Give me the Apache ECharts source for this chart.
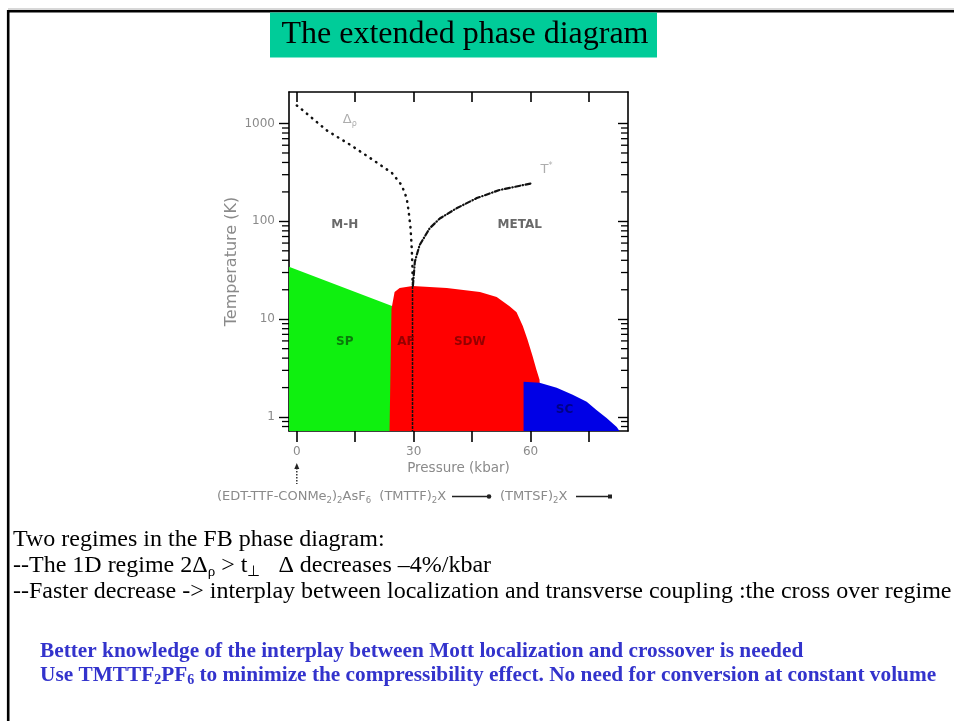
<!DOCTYPE html>
<html>
<head>
<meta charset="utf-8">
<script src="https://cdn.jsdelivr.net/npm/echarts@6/dist/echarts.min.js"></script>
<style>
  html, body { margin: 0; padding: 0; background: #ffffff; }
  #chart { width: 954px; height: 721px; }
</style>
</head>
<body>
<div id="chart"></div>
<script>
// Axis ranges and ticks
const pressureRange = [-2, 85];
const temperatureRange = [0.72, 2100];
const pressureTicks = [0, 15, 30, 45, 60, 75];
const pressureTickLabels = [0, 30, 60];
const temperatureTicks = [1, 10, 100, 1000];
const temperatureMinorTicks = [0.8, 0.9, 2, 3, 4, 5, 6, 7, 8, 9, 20, 30, 40, 50, 60, 70, 80, 90,
  200, 300, 400, 500, 600, 700, 800, 900];

// Phase boundaries, [pressure (kbar), temperature (K)]
const deltaRhoCurve = [[0, 1530], [1.6, 1360], [7.7, 850], [13.6, 610], [19.5, 426], [24.4, 313],
  [26.9, 235], [28.2, 173], [28.7, 127], [29.2, 85], [29.5, 53], [29.7, 33], [29.7, 24]];
const mottLine = [[29.7, 24], [29.7, 0.72]];
const tStarCurve = [[29.8, 22], [30.3, 38.7], [31.5, 57], [34.1, 85], [36.7, 107], [41, 136],
  [46.2, 173], [52, 209], [60.5, 246]];
const spBoundary = [[-2, 34.4], [25.1, 13.3]];
const sdwBoundary = [[23.8, 0.72], [24.3, 12.7], [25.1, 19.0], [26.4, 20.9], [29.7, 21.9], [38.5, 20.9],
  [47.0, 19.0], [51.3, 16.9], [54.6, 13.6], [56.4, 11.8], [58.0, 8.5], [59.2, 6.2], [60.5, 4.2],
  [61.5, 3.05], [62.3, 2.4], [62.6, 0.72]];
const scBoundary = [[58.2, 2.3], [62.3, 2.24], [66.7, 1.99], [70.8, 1.69], [74.4, 1.43], [76.9, 1.18],
  [79.5, 0.98], [82.1, 0.79], [82.8, 0.72]];

// Phase names and where they sit on the diagram
const phaseNames = ['M-H', 'METAL', 'SP', 'AF', 'SDW', 'SC'];
const phaseAnchors = [[12.3, 93], [57.2, 93], [12.3, 5.8], [28, 5.8], [44.4, 5.8], [68.7, 1.18]];
const curveNames = ['{d|Δ}{s|ρ}', '{d|T}{u|*}'];
const curveAnchors = [[13.6, 1100], [64.1, 336]];

const phaseColors = { 'M-H': '#444', 'METAL': '#444', 'SP': '#0a5a0a', 'AF': '#7a0000', 'SDW': '#7a0000', 'SC': '#00006e' };

const chart = echarts.init(document.getElementById('chart'), null, { renderer: 'canvas' });

const gridBox = { left: 289, top: 92, width: 339, height: 339 };
const axisGray = '#8a8a8a';

function areaSeries(name, data, color) {
  return {
    name: name,
    type: 'line',
    data: data,
    symbol: 'none',
    silent: true,
    lineStyle: { width: 0, color: color },
    areaStyle: { color: color, opacity: 1, origin: 'start' },
    z: 1
  };
}

const option = {
  animation: false,
  backgroundColor: '#ffffff',
  grid: gridBox,
  xAxis: [
    {
      type: 'value', min: pressureRange[0], max: pressureRange[1], position: 'bottom',
      name: 'Pressure (kbar)', nameLocation: 'middle', nameGap: 30,
      nameTextStyle: { color: axisGray, fontFamily: 'DejaVu Sans', fontSize: 13.5 },
      axisLine: { show: true, onZero: false, lineStyle: { color: '#000', width: 1.6 } },
      axisTick: { show: true, inside: false, length: 11, customValues: pressureTicks, lineStyle: { color: '#000', width: 1.6 } },
      axisLabel: { show: true, customValues: pressureTickLabels, color: axisGray, fontFamily: 'DejaVu Sans', fontSize: 12, margin: 15 },
      splitLine: { show: false }
    },
    {
      type: 'value', min: pressureRange[0], max: pressureRange[1], position: 'top',
      axisLine: { show: true, onZero: false, lineStyle: { color: '#000', width: 1.6 } },
      axisTick: { show: true, inside: true, length: 10, customValues: pressureTicks, lineStyle: { color: '#000', width: 1.6 } },
      axisLabel: { show: false },
      splitLine: { show: false }
    }
  ],
  yAxis: [
    {
      type: 'log', logBase: 10, min: temperatureRange[0], max: temperatureRange[1], position: 'left',
      name: 'Temperature (K)', nameLocation: 'middle', nameGap: 49, nameRotate: 90,
      nameTextStyle: { color: axisGray, fontFamily: 'DejaVu Sans', fontSize: 16 },
      axisLine: { show: true, onZero: false, lineStyle: { color: '#000', width: 1.6 } },
      axisTick: { show: true, inside: false, length: 10, customValues: temperatureTicks, lineStyle: { color: '#000', width: 1.4 } },
      axisLabel: { show: true, customValues: temperatureTicks, color: axisGray, fontFamily: 'DejaVu Sans', fontSize: 12, margin: 14,
        formatter: v => String(Math.round(v)) },
      splitLine: { show: false }
    },
    {
      type: 'log', logBase: 10, min: temperatureRange[0], max: temperatureRange[1], position: 'right',
      axisLine: { show: true, onZero: false, lineStyle: { color: '#000', width: 1.6 } },
      axisTick: { show: true, inside: true, length: 10, customValues: temperatureTicks, lineStyle: { color: '#000', width: 1.4 } },
      axisLabel: { show: false },
      splitLine: { show: false }
    }
  ],
  series: [
    areaSeries('SP', spBoundary, '#0ff00f'),
    areaSeries('SDW', sdwBoundary, '#ff0000'),
    areaSeries('SC', scBoundary, '#0000e6'),
    {
      name: 'Δρ', type: 'line', data: deltaRhoCurve, symbol: 'none', silent: true, z: 3,
      lineStyle: { color: '#111', width: 2.5, type: [0.5, 6], cap: 'round' }
    },
    {
      name: 'Mott', type: 'line', data: mottLine, symbol: 'none', silent: true, z: 3,
      lineStyle: { color: '#111', width: 1.5, type: [3, 1] }
    },
    {
      name: 'T*', type: 'line', data: tStarCurve, symbol: 'none', silent: true, z: 3,
      lineStyle: { color: '#111', width: 2.2, type: [5, 2.5, 0.5, 2.5], cap: 'round' }
    },
    {
      // minor log ticks on the left (outward) and right (inward) frames
      name: 'minorTicks', type: 'custom', silent: true, clip: false, z: 4,
      data: temperatureMinorTicks.map(v => [pressureRange[0], v]),
      encode: { x: 0, y: 1 },
      renderItem: function (params, api) {
        const y = api.coord([pressureRange[0], api.value(1)])[1];
        const cs = params.coordSys;
        const st = { stroke: '#000', lineWidth: 1.3 };
        return {
          type: 'group',
          children: [
            { type: 'line', shape: { x1: cs.x - 7, y1: y, x2: cs.x, y2: y }, style: st },
            { type: 'line', shape: { x1: cs.x + cs.width - 7, y1: y, x2: cs.x + cs.width, y2: y }, style: st }
          ]
        };
      }
    },
    {
      name: 'phases', type: 'scatter', symbolSize: 0, silent: true, z: 5,
      data: phaseNames.map((n, i) => ({
        name: n, value: phaseAnchors[i],
        label: { color: phaseColors[n] }
      })),
      label: {
        show: true, position: 'inside', formatter: p => p.name,
        fontFamily: 'DejaVu Sans', fontWeight: 'bold', fontSize: 12
      }
    },
    {
      name: 'curveNames', type: 'scatter', symbolSize: 0, silent: true, z: 5,
      data: curveNames.map((n, i) => ({ name: n, value: curveAnchors[i] })),
      label: {
        show: true, position: 'inside', formatter: p => p.name,
        rich: {
          d: { color: '#999', fontFamily: 'DejaVu Sans', fontSize: 13, lineHeight: 16 },
          s: { color: '#999', fontFamily: 'DejaVu Sans', fontSize: 8, lineHeight: 8, verticalAlign: 'bottom' },
          u: { color: '#999', fontFamily: 'DejaVu Sans', fontSize: 8, lineHeight: 8, verticalAlign: 'top' }
        }
      }
    }
  ]
};

chart.setOption(option);

// Page decorations and text around the diagram
const zeroX = chart.convertToPixel({ xAxisIndex: 0 }, 0);
const serif = 'Liberation Serif';
const subRich = {
  sub: { fontFamily: serif, fontSize: 15, lineHeight: 14, verticalAlign: 'bottom', fill: '#000' }
};
const blueRich = {
  bsub: { fontFamily: serif, fontWeight: 'bold', fontSize: 14, lineHeight: 13, verticalAlign: 'bottom', fill: '#3333cc' }
};
const noteRich = {
  ns: { fontFamily: 'DejaVu Sans', fontSize: 8.5, lineHeight: 9, verticalAlign: 'bottom', fill: '#8a8a8a' }
};

chart.setOption({
  graphic: [
    { type: 'line', shape: { x1: 8, y1: 9, x2: 954, y2: 9 }, style: { stroke: '#b0b0b0', lineWidth: 1 }, silent: true },
    { type: 'polyline', shape: { points: [[8.2, 721], [8.2, 11.3], [954, 11.3]] }, style: { stroke: '#000', lineWidth: 2.6, fill: null }, silent: true },
    { type: 'rect', shape: { x: 270, y: 12.5, width: 387, height: 45 }, style: { fill: '#00cc99' }, silent: true },
    { type: 'text', x: 465, y: 35, silent: true,
      style: { text: 'The extended phase diagram', fontFamily: serif, fontSize: 32, fill: '#000', align: 'center', verticalAlign: 'middle' } },

    // compounds along the pressure scale
    { type: 'line', shape: { x1: zeroX, y1: 468, x2: zeroX, y2: 484 }, style: { stroke: '#333', lineWidth: 1.5, lineDash: [1.5, 1.5] }, silent: true },
    { type: 'polygon', shape: { points: [[zeroX - 2.5, 469], [zeroX + 2.5, 469], [zeroX, 463]] }, style: { fill: '#222' }, silent: true },
    { type: 'text', x: 217, y: 497, silent: true,
      style: { text: '(EDT-TTF-CONMe{ns|2}){ns|2}AsF{ns|6}  (TMTTF){ns|2}X', fontFamily: 'DejaVu Sans', fontSize: 13, lineHeight: 16,
        fill: '#8a8a8a', verticalAlign: 'middle', rich: noteRich } },
    { type: 'line', shape: { x1: 452, y1: 496.5, x2: 487, y2: 496.5 }, style: { stroke: '#222', lineWidth: 1.5 }, silent: true },
    { type: 'circle', shape: { cx: 489, cy: 496.5, r: 2.3 }, style: { fill: '#222' }, silent: true },
    { type: 'text', x: 500, y: 497, silent: true,
      style: { text: '(TMTSF){ns|2}X', fontFamily: 'DejaVu Sans', fontSize: 13, lineHeight: 16,
        fill: '#8a8a8a', verticalAlign: 'middle', rich: noteRich } },
    { type: 'line', shape: { x1: 576, y1: 496.5, x2: 611, y2: 496.5 }, style: { stroke: '#222', lineWidth: 1.5 }, silent: true },
    { type: 'rect', shape: { x: 608, y: 494.5, width: 4, height: 4 }, style: { fill: '#222' }, silent: true },

    // discussion text
    { type: 'text', x: 13, y: 540, silent: true,
      style: { text: 'Two regimes in the FB phase diagram:', fontFamily: serif, fontSize: 24, fill: '#000', verticalAlign: 'middle' } },
    { type: 'text', x: 13, y: 566, silent: true,
      style: { text: '--The 1D regime 2Δ{sub|ρ} > t{sub|⊥}   Δ decreases –4%/kbar', fontFamily: serif, fontSize: 24, lineHeight: 28,
        fill: '#000', verticalAlign: 'middle', rich: subRich } },
    { type: 'text', x: 13, y: 592, silent: true,
      style: { text: '--Faster decrease -> interplay between localization and transverse coupling :the cross over regime', fontFamily: serif, fontSize: 24,
        fill: '#000', verticalAlign: 'middle' } },
    { type: 'text', x: 40, y: 651, silent: true,
      style: { text: 'Better knowledge of the interplay between Mott localization and crossover is needed', fontFamily: serif, fontWeight: 'bold', fontSize: 21.3,
        fill: '#3333cc', verticalAlign: 'middle' } },
    { type: 'text', x: 40, y: 675, silent: true,
      style: { text: 'Use TMTTF{bsub|2}PF{bsub|6} to minimize the compressibility effect. No need for conversion at constant volume', fontFamily: serif, fontWeight: 'bold', fontSize: 21.3, lineHeight: 24,
        fill: '#3333cc', verticalAlign: 'middle', rich: blueRich } }
  ]
});
</script>
</body>
</html>
